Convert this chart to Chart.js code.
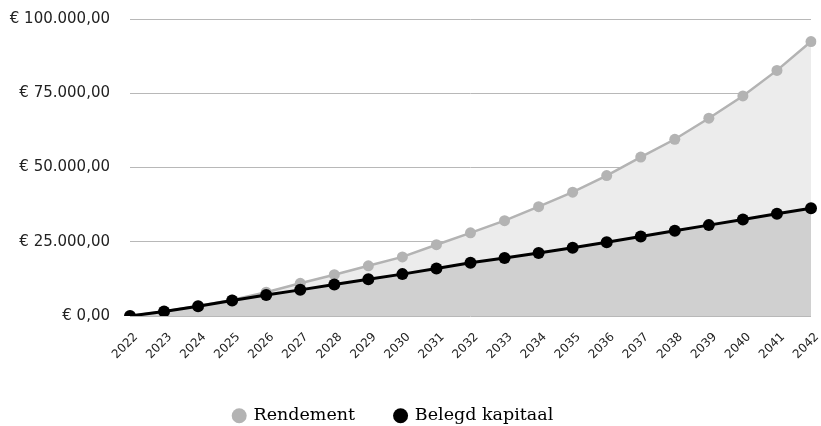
<!DOCTYPE html>
<html>
<head>
<meta charset="utf-8">
<script src="https://cdn.jsdelivr.net/npm/chart.js@4"></script>
<style>
  html, body { margin: 0; padding: 0; background: #fff; }
  #wrap { width: 821px; height: 426px; }
</style>
</head>
<body>
<div id="wrap"><canvas id="chart"></canvas></div>
<script>
// Years on the x axis
const years = ['2022', '2023', '2024', '2025', '2026', '2027', '2028', '2029', '2030', '2031', '2032',
  '2033', '2034', '2035', '2036', '2037', '2038', '2039', '2040', '2041', '2042'];

// Total value incl. return (grey line)
const rendement = [0, 1500, 3400, 5400, 8000, 11000, 13900, 16900, 19900, 24000, 28000,
  32100, 36800, 41700, 47300, 53500, 59500, 66600, 74100, 82700, 92400];

// Invested capital (black line)
const belegdKapitaal = [0, 1500, 3300, 5200, 7100, 8800, 10600, 12400, 14100, 16000, 17900,
  19500, 21200, 23000, 24800, 26800, 28700, 30600, 32500, 34400, 36300];

const yTicks = [0, 25000, 50000, 75000, 100000];

const tickFont = "DejaVu Sans";
const legendFont = "DejaVu Serif";

// Format as Dutch euro amount: € 25.000,00
function formatEuro(v) {
  const parts = v.toFixed(2).split('.');
  const whole = parts[0].replace(/\B(?=(\d{3})+(?!\d))/g, '.');
  return '€ ' + whole + ',' + parts[1];
}

// The legend needs a wide padding for the gap between the two items,
// but that also makes the box tall. Cap the height after it is measured,
// and nudge the centred row a bit to the left.
const legendFix = {
  id: 'legendFix',
  beforeInit(chart) {
    const legend = chart.legend;
    const fit = legend.fit;
    legend.fit = function () {
      fit.call(this);
      this.height = 59;
    };
  },
  afterLayout(chart) {
    chart.legend.right -= 24;
    chart.legend.width -= 24;
  }
};

const canvas = document.getElementById('chart');
new Chart(canvas, {
  type: 'line',
  plugins: [legendFix],
  data: {
    labels: years,
    datasets: [
      {
        // first dataset is drawn on top
        label: 'Belegd kapitaal',
        data: belegdKapitaal,
        borderColor: '#000000',
        backgroundColor: '#d0d0d0',
        pointBackgroundColor: '#000000',
        pointBorderColor: '#000000',
        borderWidth: 3,
        pointRadius: 6,
        pointBorderWidth: 0,
        fill: 'origin',
        tension: 0
      },
      {
        label: 'Rendement',
        data: rendement,
        borderColor: '#b3b3b3',
        backgroundColor: '#ececec',
        pointBackgroundColor: '#b3b3b3',
        pointBorderColor: '#b3b3b3',
        borderWidth: 2.5,
        pointRadius: 5.5,
        pointBorderWidth: 0,
        fill: 'origin',
        tension: 0
      }
    ]
  },
  options: {
    responsive: true,
    maintainAspectRatio: false,
    animation: false,
    layout: {
      padding: { top: 19, right: 10, bottom: 0, left: 0 }
    },
    plugins: {
      tooltip: { enabled: false },
      legend: {
        position: 'bottom',
        reverse: true,
        labels: {
          usePointStyle: true,
          boxWidth: 11,
          boxHeight: 10.6,
          padding: 40,
          color: '#111',
          font: { family: legendFont, size: 17.5 },
          generateLabels: function (chart) {
            return chart.data.datasets.map((ds, i) => ({
              text: ds.label,
              fillStyle: ds.pointBackgroundColor,
              strokeStyle: ds.pointBackgroundColor,
              lineWidth: 0,
              pointStyle: 'circle',
              datasetIndex: i,
              hidden: false
            }));
          }
        }
      }
    },
    scales: {
      x: {
        offset: false,
        grid: { display: false, drawTicks: false },
        border: { display: false },
        ticks: {
          autoSkip: false,
          minRotation: 45,
          maxRotation: 45,
          padding: 14,
          labelOffset: 6,
          color: '#222',
          font: { family: tickFont, size: 12 }
        },
        afterFit: function (scale) {
          scale.height = 51;
          scale.paddingLeft = 0;
          scale.paddingRight = 0;
        }
      },
      y: {
        min: 0,
        max: 100000,
        afterBuildTicks: function (scale) {
          scale.ticks = yTicks.map(v => ({ value: v }));
        },
        grid: { color: '#b8b8b8', lineWidth: 1, drawTicks: false },
        border: { display: false },
        ticks: {
          padding: 20,
          color: '#222',
          font: { family: tickFont, size: 15 },
          callback: function (value) {
            return formatEuro(value);
          }
        },
        afterFit: function (scale) {
          scale.width = 130;
          scale.paddingTop = 0;
          scale.paddingBottom = 0;
        }
      }
    }
  }
});
</script>
</body>
</html>
